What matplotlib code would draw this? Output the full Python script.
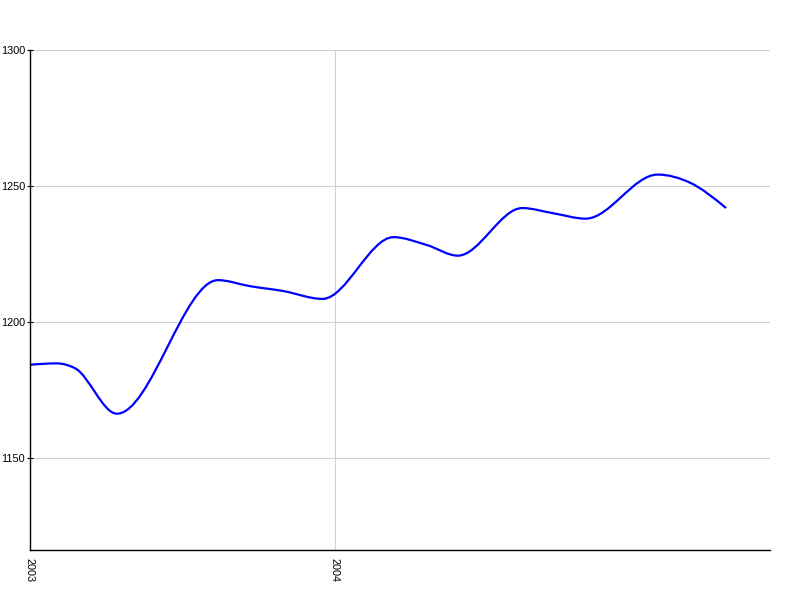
import matplotlib
matplotlib.use('Agg')
import matplotlib.pyplot as plt
import matplotlib.dates as mdates
from matplotlib.path import Path
from matplotlib.patches import PathPatch
import numpy as np

plt.rcParams['font.family'] = ['Liberation Sans', 'DejaVu Sans']

# values
dates = ['2003-01-01', '2003-02-02', '2003-02-24', '2003-04-15',
         '2003-08-14', '2003-09-21', '2003-10-31', '2003-12-17', '2004-03-11',
         '2004-04-20', '2004-05-27', '2004-08-12', '2004-09-18', '2004-10-27',
         '2005-01-21', '2005-03-01', '2005-04-13']
values = [1184.3, 1184.8, 1183.0, 1166.3,
          1215.4, 1213.2, 1211.4, 1208.5, 1231.2,
          1228.3, 1224.4, 1241.9, 1240.0, 1238.0,
          1254.2, 1251.2, 1241.9]
y_ticks = [1150, 1200, 1250, 1300]
x_tick_labels = ['2003', '2004']


def monotone_path(x, y):
    """Smooth monotone cubic (Fritsch-Carlson style) as a bezier path."""
    n = len(x)
    h = np.diff(x)
    s = np.diff(y) / h
    t = np.zeros(n)
    for i in range(1, n - 1):
        p = (s[i - 1] * h[i] + s[i] * h[i - 1]) / (h[i - 1] + h[i])
        t[i] = (np.sign(s[i - 1]) + np.sign(s[i])) * min(abs(s[i - 1]), abs(s[i]), 0.5 * abs(p))
    t[0] = (3 * s[0] - t[1]) / 2
    t[-1] = (3 * s[-1] - t[-2]) / 2
    verts = [(x[0], y[0])]
    codes = [Path.MOVETO]
    for i in range(n - 1):
        dx = h[i] / 3
        verts += [(x[i] + dx, y[i] + dx * t[i]),
                  (x[i + 1] - dx, y[i + 1] - dx * t[i + 1]),
                  (x[i + 1], y[i + 1])]
        codes += [Path.CURVE4] * 3
    return Path(verts, codes)


x = mdates.date2num(np.array(dates, dtype='datetime64[D]'))
y = np.array(values)

fig = plt.figure(figsize=(8, 6), dpi=100)
ax = fig.add_axes([30 / 800, 50 / 600, 740 / 800, 500 / 600])

ax.add_patch(PathPatch(monotone_path(x, y), fill=False, edgecolor='#0000ff', lw=1.6))

x0 = mdates.date2num(np.datetime64('2003-01-01'))
ax.set_xlim(x0, x0 + 740 * 365 / 305)
ax.set_ylim(1116.2, 1300)

ax.set_yticks(y_ticks)
ax.set_yticklabels([str(v) for v in y_ticks])
ax.set_xticks(mdates.date2num(np.array([l + '-01-01' for l in x_tick_labels], dtype='datetime64[D]')))
ax.set_xticklabels(x_tick_labels, rotation=-90, va='top', ha='center')

ax.grid(True, color='#d3d3d3', lw=0.8)
ax.set_axisbelow(True)
for side in ['top', 'right']:
    ax.spines[side].set_visible(False)
for side in ['left', 'bottom']:
    ax.spines[side].set_color('black')
    ax.spines[side].set_linewidth(1.0)
ax.tick_params(axis='y', direction='inout', length=5, pad=1, labelsize=7.8, colors='black')
ax.tick_params(axis='x', length=0, pad=6, labelsize=7.8, colors='black')

plt.savefig('out.png', dpi=100)
